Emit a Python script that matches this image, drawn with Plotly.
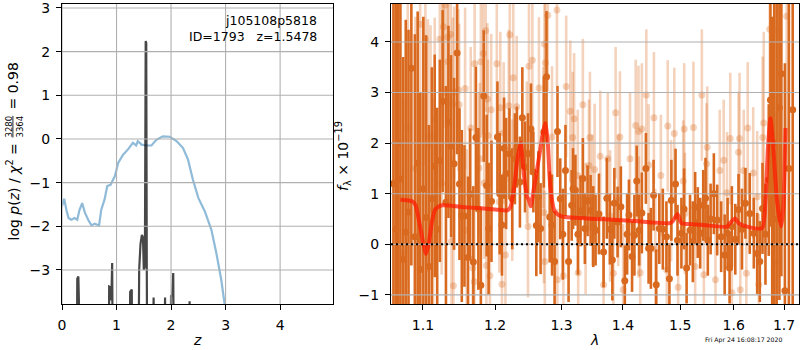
import math
import plotly.graph_objects as go

# ---------------- left panel data ----------------
z_chi2 = [0.0, 0.04, 0.08, 0.12, 0.17, 0.23, 0.28, 0.32, 0.37, 0.42, 0.48, 0.54, 0.60, 0.68,
          0.72, 0.78, 0.83, 0.89, 0.97, 1.03, 1.12, 1.21, 1.30, 1.36, 1.39, 1.46, 1.55, 1.64,
          1.73, 1.85, 1.98, 2.10, 2.22, 2.31, 2.40, 2.50, 2.62, 2.74, 2.83, 2.92, 2.98, 3.05]
chi2_curve = [-1.54, -1.37, -1.62, -1.81, -1.85, -1.81, -1.85, -1.63, -1.47, -1.69, -1.85, -1.98,
              -1.94, -1.98, -1.62, -1.39, -1.08, -1.05, -0.85, -0.55, -0.36, -0.24, -0.09, -0.15,
              -0.05, -0.13, -0.15, -0.15, -0.02, 0.06, 0.05, -0.05, -0.21, -0.47, -0.93, -1.35,
              -1.66, -2.08, -2.61, -3.22, -3.76, -4.40]

z_pz = [0.0, 0.27, 0.28, 0.30, 0.31, 0.32, 0.855, 0.865, 0.895, 0.905, 0.92, 0.935,
        1.24, 1.25, 1.28, 1.29, 1.40, 1.415, 1.44, 1.465, 1.485, 1.50, 1.52, 1.535, 1.545,
        1.555, 1.565, 1.66, 1.68, 1.70, 1.87, 1.89, 1.91, 1.98, 2.00, 2.02, 2.04, 2.055,
        2.32, 2.34, 2.36, 4.97]
logp = [-6, -6, -3.2, -3.15, -3.7, -6, -6, -3.38, -3.4, -3.7, -2.84, -6,
        -6, -3.5, -3.45, -6, -6, -3.0, -2.4, -2.2, -2.25, -3.0, -2.9, 2.24, 2.2,
        -3.0, -6, -6, -3.63, -6, -6, -3.63, -6, -6, -3.58, -3.6, -3.07, -6,
        -6, -3.72, -6, -6]

left_xticks = [0, 1, 2, 3, 4]
left_yticks = [-3, -2, -1, 0, 1, 2, 3]

# ---------------- right panel data ----------------
wave_dark = [1.0615, 1.0645, 1.0675, 1.0705, 1.0740, 1.0774, 1.0810, 1.0847, 1.0893, 1.0930,
             1.0965, 1.1005, 1.1042, 1.1079, 1.1118, 1.1157, 1.1190, 1.1226, 1.1264, 1.1309,
             1.1343, 1.1379, 1.1420, 1.1462, 1.1495, 1.1527, 1.1564, 1.1614, 1.1642, 1.1689,
             1.1725, 1.1760, 1.1795, 1.1836, 1.1878, 1.1906, 1.1947, 1.2033, 1.2066, 1.2099,
             1.2130, 1.2160, 1.2209, 1.2250, 1.2289, 1.2319, 1.2364, 1.2400, 1.2440, 1.2485,
             1.2530, 1.2566, 1.2611, 1.2642, 1.2676, 1.2726, 1.2767, 1.2816, 1.2852, 1.2892,
             1.2937, 1.2980, 1.3020, 1.3062, 1.3111, 1.3160, 1.3182, 1.3220, 1.3260, 1.3301,
             1.3339, 1.3371, 1.3415, 1.3464, 1.3508, 1.3545, 1.3600, 1.3676, 1.3730, 1.3780,
             1.3822, 1.3855, 1.3909, 1.3964, 1.4031, 1.4070, 1.4101, 1.4154, 1.4194, 1.4234,
             1.4276, 1.4322, 1.4392, 1.4439, 1.4479, 1.4526, 1.4573, 1.4626, 1.4689, 1.4753,
             1.4806, 1.4841, 1.4916, 1.4951, 1.5022, 1.5070, 1.5116, 1.5179, 1.5230, 1.5273,
             1.5321, 1.5366, 1.5422, 1.5465, 1.5508, 1.5560, 1.5621, 1.5684, 1.5759, 1.5826,
             1.5882, 1.5920, 1.5964, 1.6030, 1.6093, 1.6160, 1.6227, 1.6312, 1.6392, 1.6459,
             1.6511, 1.6565, 1.6624, 1.6690, 1.6724, 1.6760, 1.6800, 1.6850, 1.6906, 1.6946,
             1.7018, 1.7100, 1.7179]
flux_dark = [1.2, 0.3, 2.0, 1.29, -0.3, 0.24, 0.64, 3.48, 0.15, 1.6,
             -0.5, 1.1, 0.53, -0.44, 0.9, 1.55, 0.3, 1.65, 2.83, 0.83,
             2.42, 1.94, 1.59, 3.78, 1.19, 0.56, 0.56, -0.26, 0.99, -0.35,
             2.11, 0.7, -0.81, 2.93, 1.16, 0.31, 0.85, 2.12, 1.0, 0.38,
             1.9, 1.40, 1.79, 0.9, 1.69, 1.92, 1.23, 2.5, 1.53, 1.79,
             2.28, 1.43, 0.37, 0.94, 0.31, 2.22, 3.31, 0.54, 0.38, -0.34,
             2.23, 0.9, 0.2, 1.46, -0.34, 0.77, 1.10, 1.07, 0.2, 0.66,
             1.30, 0.31, 0.86, 0.67, 0.35, 0.28, 0.6, -0.15, 0.91, 0.3,
             -0.31, 0.81, 0.44, 0.74, -0.72, 0.2, 0.58, -0.24, 0.18, 1.25,
             0.28, 0.62, 1.50, -0.08, -0.08, 0.97, -0.80, 0.31, 0.30, 0.15,
             -0.68, 0.87, 1.19, 0.08, 0.22, 0.7, -0.47, 0.28, 0.05, 0.73,
             0.43, 0.22, 0.77, 0.91, 0.08, 0.5, 1.00, 0.48, 0.15, -0.21,
             0.22, -0.47, 0.35, 0.1, 0.69, 0.3, 0.81, 0.61, 0.22, -0.18,
             -0.34, 0.71, 0.20, 1.27, 2.85, 1.0, 2.0, 0.5, 2.70, 3.37,
             -0.92, 1.5, 2.66]
err_dark = [4.2, 4.5, 3.6, 3.8, 4.0, 4.2, 3.6, 3.9, 4.0, 3.0,
            3.5, 3.4, 3.6, 2.8, 2.6, 2.2, 2.4, 2.0, 1.8, 2.3,
            1.9, 1.8, 1.7, 2.0, 1.5, 1.7, 1.4, 1.6, 1.3, 1.5,
            1.4, 1.6, 1.5, 1.3, 1.4, 1.3, 1.2, 1.1, 1.2, 1.0,
            1.0, 1.1, 0.9, 1.0, 0.9, 0.8, 0.9, 1.0, 0.9, 0.8,
            0.9, 0.8, 1.0, 0.9, 0.9, 1.1, 1.3, 0.9, 1.0, 1.0,
            0.9, 0.8, 0.9, 0.9, 0.8, 0.7, 0.8, 0.7, 0.8, 0.7,
            0.8, 0.7, 0.7, 0.7, 0.8, 0.7, 0.8, 0.7, 0.8, 0.7,
            0.8, 0.7, 0.7, 0.8, 0.7, 0.8, 0.7, 0.7, 0.8, 0.7,
            0.7, 0.8, 0.7, 0.7, 0.8, 0.7, 0.7, 0.7, 0.8, 0.7,
            0.7, 0.8, 0.7, 0.7, 0.7, 0.8, 0.7, 0.7, 0.8, 0.7,
            0.7, 0.7, 0.7, 0.8, 0.7, 0.7, 0.8, 0.7, 0.7, 0.8,
            0.7, 0.7, 0.8, 0.7, 0.7, 0.8, 0.7, 0.8, 0.7, 0.8,
            0.8, 0.9, 1.0, 1.5, 2.5, 3.5, 4.0, 4.5, 3.8, 4.0,
            4.5, 4.0, 4.0]

wave_light = [1.0741, 1.0800, 1.0900, 1.0963, 1.1032, 1.1065, 1.1101, 1.1135, 1.1157, 1.1226,
              1.1250, 1.1259, 1.1275, 1.1295, 1.1333, 1.1337, 1.1374, 1.1385, 1.1402, 1.1411,
              1.1420, 1.1481, 1.1490, 1.1573, 1.1596, 1.1652, 1.1680, 1.1703, 1.1707, 1.1767,
              1.1781, 1.1795, 1.1828, 1.1842, 1.1864, 1.1874, 1.1888, 1.1897, 1.1925, 1.1943,
              1.2024, 1.2060, 1.2075, 1.2099, 1.2124, 1.2150, 1.2199, 1.2214, 1.2250, 1.2265,
              1.2316, 1.2467, 1.2485, 1.2500, 1.2551, 1.2651, 1.2717, 1.2726, 1.2735, 1.2741,
              1.2748, 1.2786, 1.2852, 1.2928, 1.2935, 1.3029, 1.3073, 1.3138, 1.3176, 1.3199,
              1.3257, 1.3264, 1.3339, 1.3383, 1.3437, 1.3453, 1.3492, 1.3529, 1.3622, 1.3676,
              1.3746, 1.3785, 1.3839, 1.3876, 1.3920, 1.3948, 1.4002, 1.4119, 1.4217, 1.4264,
              1.4270, 1.4294, 1.4322, 1.4399, 1.4439, 1.4532, 1.4556, 1.4654, 1.4759, 1.4776,
              1.4836, 1.4893, 1.4963, 1.5054, 1.5073, 1.5086, 1.5241, 1.5273, 1.5396, 1.5434,
              1.5484, 1.5497, 1.5652, 1.5733, 1.5808, 1.5871, 1.5933, 1.5964, 1.6093, 1.6113,
              1.6127, 1.6193, 1.6246, 1.6272, 1.6380, 1.6459, 1.6491, 1.6569, 1.6589, 1.6709,
              1.6843, 1.6868, 1.7055]
flux_light = [-0.18, 2.3, 1.5, 4.35, 4.06, 1.95, 2.13, 0.68, 2.48, 4.06,
              1.20, 3.05, 4.30, 4.73, 4.10, 3.61, 4.15, 0.06, 2.78, -0.82,
              3.0, 3.05, 2.76, 3.08, 0.28, 2.30, -0.47, -0.74, 3.57, 1.51,
              1.69, 3.61, 3.77, 1.21, 4.22, -0.42, 2.87, 2.15, -0.62, 2.66,
              3.57, 0.84, 2.70, -0.79, 2.20, -0.21, 2.74, 4.14, 1.07, 3.29,
              2.72, 1.82, 0.35, 3.52, 3.64, 3.09, 2.11, 0.63, 3.96, -0.34,
              3.59, 4.53, 2.12, 4.63, -0.70, -0.62, 3.12, 2.63, 2.11, 2.48,
              1.36, -0.56, 2.76, 0.31, 1.56, 2.11, 0.87, 1.48, 1.74, -0.80,
              1.69, 0.56, -0.57, 2.60, 0.87, 2.12, -0.90, 1.69, 2.35, 2.23,
              0.54, -0.56, 2.28, 2.95, 1.57, 2.50, -0.10, 1.36, -0.51, 2.34,
              0.86, 2.19, -0.85, 1.25, 2.28, 0.61, 2.31, -0.44, 2.95, -0.60,
              1.59, 1.92, -0.70, 1.46, 1.66, 1.02, 2.09, -0.96, 1.82, 2.09,
              -0.90, 1.46, -0.57, 2.30, 1.41, 0.94, -0.80, 2.11, 2.40, 4.25,
              -0.37, 4.23, 4.51]
err_light = [3.0, 3.0, 3.0, 3.0, 2.5, 2.5, 2.2, 2.2, 2.0, 2.0,
             1.8, 1.8, 2.0, 1.8, 1.8, 1.7, 1.8, 1.7, 1.7, 1.8,
             1.7, 1.6, 1.6, 1.6, 1.6, 1.6, 1.6, 1.5, 1.6, 1.5,
             1.5, 1.5, 1.6, 1.5, 1.6, 1.5, 1.5, 1.5, 1.5, 1.5,
             1.5, 1.4, 1.5, 1.5, 1.4, 1.4, 1.5, 1.6, 1.4, 1.5,
             1.4, 1.4, 1.4, 1.5, 1.5, 1.4, 1.4, 1.4, 1.5, 1.4,
             1.4, 1.5, 1.4, 1.5, 1.4, 1.4, 1.4, 1.4, 1.3, 1.3,
             1.3, 1.3, 1.3, 1.3, 1.3, 1.3, 1.3, 1.3, 1.3, 1.3,
             1.3, 1.3, 1.3, 1.3, 1.3, 1.3, 1.3, 1.3, 1.3, 1.3,
             1.2, 1.3, 1.3, 1.3, 1.2, 1.3, 1.2, 1.2, 1.2, 1.3,
             1.2, 1.3, 1.2, 1.2, 1.3, 1.2, 1.3, 1.2, 1.3, 1.2,
             1.2, 1.2, 1.2, 1.2, 1.2, 1.2, 1.3, 1.2, 1.2, 1.3,
             1.2, 1.2, 1.2, 1.3, 1.3, 1.3, 1.4, 1.6, 1.8, 2.5,
             3.0, 3.0, 3.0]

wave_model = [1.0705, 1.0857, 1.0900, 1.0950, 1.1000, 1.1040, 1.1080, 1.1120, 1.1160, 1.1204,
              1.1260, 1.1600, 1.2001, 1.2176, 1.2225, 1.2275, 1.2330, 1.2375, 1.2425, 1.2470,
              1.2500, 1.2526, 1.2576, 1.2651, 1.2726, 1.2752, 1.2786, 1.2827, 1.2892, 1.3003,
              1.3627, 1.4200, 1.4817, 1.4875, 1.4951, 1.5022, 1.5148, 1.5428, 1.5871, 1.5920,
              1.6028, 1.6093, 1.6260, 1.6557, 1.6624, 1.6678, 1.6724, 1.6777, 1.6857, 1.6942,
              1.6988, 1.7030]
flux_model = [0.88, 0.85, 0.78, 0.45, 0.05, -0.19, 0.05, 0.45, 0.68, 0.74,
              0.77, 0.73, 0.69, 0.67, 0.74, 1.10, 1.70, 2.00, 1.36, 0.95,
              0.87, 0.75, 1.12, 1.71, 2.30, 2.40, 2.02, 1.11, 0.66, 0.55,
              0.50, 0.46, 0.42, 0.47, 0.60, 0.42, 0.40, 0.38, 0.35, 0.41,
              0.51, 0.42, 0.35, 0.32, 0.87, 1.98, 2.49, 1.98, 0.87, 0.35,
              0.76, 2.30]

right_xticks = [1.1, 1.2, 1.3, 1.4, 1.5, 1.6, 1.7]
right_yticks = [-1, 0, 1, 2, 3, 4]

# ---------------- styling ----------------
W, H = 800, 350
FONT = "DejaVu Sans"
DARK = "rgb(217,105,30)"
LIGHT = "rgba(217,105,30,0.3)"
GRID = "#b0b0b0"

fig = go.Figure()

fig.add_trace(go.Scatter(x=z_chi2, y=chi2_curve, mode="lines",
                         line=dict(color="rgba(31,119,180,0.5)", width=2.2),
                         xaxis="x", yaxis="y", showlegend=False, hoverinfo="skip"))
fig.add_trace(go.Scatter(x=z_pz, y=logp, mode="lines",
                         line=dict(color="rgba(0,0,0,0.72)", width=2.2),
                         xaxis="x", yaxis="y", showlegend=False, hoverinfo="skip"))

fig.add_trace(go.Scatter(x=wave_light, y=flux_light, mode="markers",
                         marker=dict(color=LIGHT, size=7, line=dict(width=0)),
                         error_y=dict(type="data", array=err_light, color=LIGHT,
                                      thickness=2.6, width=0),
                         xaxis="x2", yaxis="y2", showlegend=False, hoverinfo="skip"))
fig.add_trace(go.Scatter(x=wave_dark, y=flux_dark, mode="markers",
                         marker=dict(color=DARK, size=7, line=dict(width=0)),
                         error_y=dict(type="data", array=err_dark, color=DARK,
                                      thickness=2.6, width=0),
                         xaxis="x2", yaxis="y2", showlegend=False, hoverinfo="skip"))
fig.add_trace(go.Scatter(x=wave_model, y=flux_model, mode="lines",
                         line=dict(color="rgba(255,25,0,0.72)", width=4, shape="spline",
                                   smoothing=0.6),
                         xaxis="x2", yaxis="y2", showlegend=False, hoverinfo="skip"))

x1dom = [62 / W, 333 / W]
x2dom = [391 / W, 799 / W]
ydom = [(H - 304) / H, (H - 4) / H]

axis_common = dict(showgrid=False, zeroline=False, showline=True, mirror=True,
                   linecolor="black", linewidth=1, ticks="outside", ticklen=5,
                   tickwidth=1, tickcolor="black", ticklabelstandoff=3, automargin=False,
                   ticklabeloverflow="allow",
                   tickfont=dict(family=FONT, size=14, color="black"))

fig.update_layout(
    width=W, height=H, margin=dict(l=0, r=0, t=0, b=0, autoexpand=False),
    paper_bgcolor="white", plot_bgcolor="white",
    xaxis=dict(domain=x1dom, range=[0, 4.97], tickvals=left_xticks, anchor="y", **axis_common),
    yaxis=dict(domain=ydom, range=[-3.78, 3.09], tickvals=left_yticks, anchor="x", **axis_common),
    xaxis2=dict(domain=x2dom, type="log", range=[math.log10(1.0584), math.log10(1.731)],
                tickvals=right_xticks, ticktext=[f"{v:.1f}" for v in right_xticks],
                anchor="y2", **axis_common),
    yaxis2=dict(domain=ydom, range=[-1.18, 4.75], tickvals=right_yticks, anchor="x2",
                **axis_common),
)

# grid lines drawn above the data (as in the reference)
shapes = []
for v in left_xticks:
    shapes.append(dict(type="line", xref="x", yref="y domain", x0=v, x1=v, y0=0, y1=1,
                       line=dict(color=GRID, width=1.1), layer="above"))
for v in left_yticks:
    shapes.append(dict(type="line", xref="x domain", yref="y", x0=0, x1=1, y0=v, y1=v,
                       line=dict(color=GRID, width=1.1), layer="above"))
for v in right_xticks:
    lv = math.log10(v)
    shapes.append(dict(type="line", xref="x2", yref="y2 domain", x0=lv, x1=lv, y0=0, y1=1,
                       line=dict(color=GRID, width=1.1), layer="above"))
for v in right_yticks:
    shapes.append(dict(type="line", xref="x2 domain", yref="y2", x0=0, x1=1, y0=v, y1=v,
                       line=dict(color=GRID, width=1.1), layer="above"))
# dotted zero level
shapes.append(dict(type="line", xref="x2 domain", yref="y2", x0=0, x1=1, y0=0, y1=0,
                   line=dict(color="black", width=2, dash="2px,3px"), layer="above"))
fig.update_layout(shapes=shapes)

def px_x(p):
    return p / W

def px_y(p):
    return (H - p) / H

ann = []
ann.append(dict(text="j105108p5818", x=px_x(319), y=px_y(20), xanchor="right", yanchor="middle",
                font=dict(family=FONT, size=12.5, color="black")))
ann.append(dict(text="ID=1793\u00a0\u00a0\u00a0z=1.5478", x=px_x(319), y=px_y(36), xanchor="right",
                yanchor="middle", font=dict(family=FONT, size=12.5, color="black")))
ann.append(dict(text="<i>z</i>", x=px_x(197), y=px_y(340), xanchor="center", yanchor="middle",
                font=dict(family=FONT, size=14, color="black")))
ann.append(dict(text="<i>λ</i>", x=px_x(594), y=px_y(340), xanchor="center", yanchor="middle",
                font=dict(family=FONT, size=14, color="black")))
ann.append(dict(text="log <i>p</i>(<i>z</i>) / <i>χ</i><sup>2</sup> =", x=px_x(13), y=px_y(142),
                xanchor="center", yanchor="top", textangle=-90,
                font=dict(family=FONT, size=14, color="black")))
ann.append(dict(text="<u>3280</u><br>3364", x=px_x(13.5), y=px_y(127), xanchor="center",
                yanchor="middle", textangle=-90,
                font=dict(family=FONT, size=8.5, color="black")))
ann.append(dict(text="= 0.98", x=px_x(13), y=px_y(112), xanchor="center", yanchor="bottom",
                textangle=-90, font=dict(family=FONT, size=14, color="black")))
ann.append(dict(text="<i>f</i><sub>λ</sub> × 10<sup>−19</sup>", x=px_x(343), y=px_y(156),
                xanchor="center", yanchor="middle", textangle=-90,
                font=dict(family=FONT, size=14, color="black")))
ann.append(dict(text="Fri Apr 24 16:08:17 2020", x=px_x(743), y=px_y(340), xanchor="center",
                yanchor="middle", font=dict(family=FONT, size=6.2, color="black")))
for a in ann:
    a.update(xref="paper", yref="paper", showarrow=False)
fig.update_layout(annotations=ann)

fig.write_html("out.html", config={"displayModeBar": False},
               post_script="document.body.style.margin='0';")
